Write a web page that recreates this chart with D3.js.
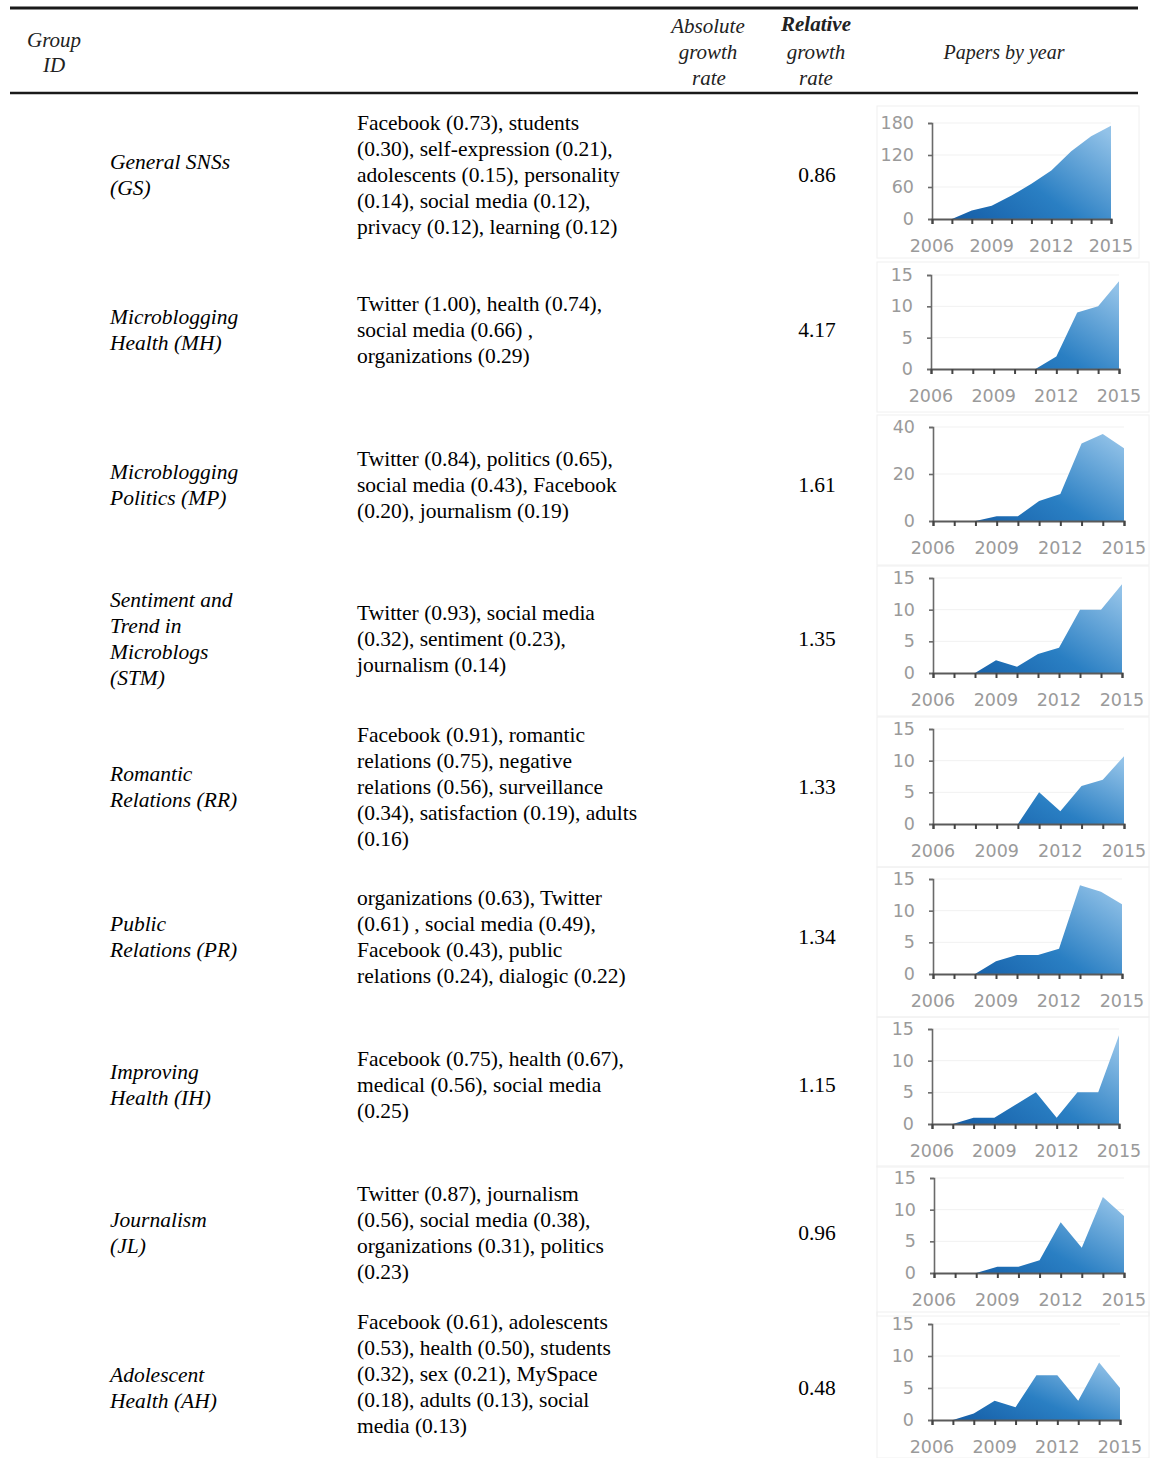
<!DOCTYPE html>
<html>
<head>
<meta charset="utf-8">
<script src="https://cdn.jsdelivr.net/npm/d3@7"></script>
<style>
  body { margin: 0; background: #fff; }
  svg text { font-family: "Liberation Serif", "Times New Roman", serif; }
  .tick-label { font-family: "DejaVu Sans", sans-serif; fill: #9a9a9a; font-size: 17.5px; }
</style>
</head>
<body>
<div id="chart-area"></div>
<script>
// ---- data ----
const years = [2006, 2007, 2008, 2009, 2010, 2011, 2012, 2013, 2014, 2015]
const yearLabels = [2006, 2009, 2012, 2015]

const groupNames = [
  ["General SNSs", "(GS)"],
  ["Microblogging", "Health (MH)"],
  ["Microblogging", "Politics (MP)"],
  ["Sentiment and", "Trend in", "Microblogs", "(STM)"],
  ["Romantic", "Relations (RR)"],
  ["Public", "Relations (PR)"],
  ["Improving", "Health (IH)"],
  ["Journalism", "(JL)"],
  ["Adolescent", "Health (AH)"]
]

const keywords = [
  ["Facebook (0.73), students", "(0.30), self-expression (0.21),", "adolescents (0.15), personality", "(0.14), social media (0.12),", "privacy (0.12), learning (0.12)"],
  ["Twitter (1.00), health (0.74),", "social media (0.66) ,", "organizations (0.29)"],
  ["Twitter (0.84), politics (0.65),", "social media (0.43), Facebook", "(0.20), journalism (0.19)"],
  ["Twitter (0.93), social media", "(0.32), sentiment (0.23),", "journalism (0.14)"],
  ["Facebook (0.91), romantic", "relations (0.75), negative", "relations (0.56), surveillance", "(0.34), satisfaction (0.19), adults", "(0.16)"],
  ["organizations (0.63), Twitter", "(0.61) , social media (0.49),", "Facebook (0.43), public", "relations (0.24), dialogic (0.22)"],
  ["Facebook (0.75), health (0.67),", "medical (0.56), social media", "(0.25)"],
  ["Twitter (0.87), journalism", "(0.56), social media (0.38),", "organizations (0.31), politics", "(0.23)"],
  ["Facebook (0.61), adolescents", "(0.53), health (0.50), students", "(0.32), sex (0.21), MySpace", "(0.18), adults (0.13), social", "media (0.13)"]
]

const relativeGrowth = ["0.86", "4.17", "1.61", "1.35", "1.33", "1.34", "1.15", "0.96", "0.48"]

const papersGS  = [0, 0, 16, 25, 44, 66, 91, 127, 155, 175]
const papersMH  = [0, 0, 0, 0, 0, 0, 2, 9, 10, 14]
const papersMP  = [0, 0, 0, 2, 2, 8.5, 11.5, 33, 37, 31]
const papersSTM = [0, 0, 0, 2, 1, 3, 4, 10, 10, 14]
const papersRR  = [0, 0, 0, 0, 0, 5, 2, 6, 7, 10.7]
const papersPR  = [0, 0, 0, 2, 3, 3, 4, 14, 13, 11]
const papersIH  = [0, 0, 1, 1, 3, 5, 1, 5, 5, 14]
const papersJL  = [0, 0, 0, 1, 1, 2, 8, 4, 12, 9]
const papersAH  = [0, 0, 1, 3, 2, 7, 7, 3, 9, 5]
const papers = [papersGS, papersMH, papersMP, papersSTM, papersRR, papersPR, papersIH, papersJL, papersAH]

const yTicksGS = [0, 60, 120, 180]
const yTicksMP = [0, 20, 40]
const yTicksSmall = [0, 5, 10, 15]
const yTicks = [yTicksGS, yTicksSmall, yTicksMP, yTicksSmall, yTicksSmall, yTicksSmall, yTicksSmall, yTicksSmall, yTicksSmall]

// ---- layout (pixel positions per row) ----
const rowLayout = [
  { nameY: 162, kwY: 123, valY: 175,  top: 123,  base: 219,  x0: 932, x1: 1111, box: [877, 106, 262, 152] },
  { nameY: 317, kwY: 304, valY: 330,  top: 275,  base: 369,  x0: 931, x1: 1119, box: [877, 262, 272, 150] },
  { nameY: 472, kwY: 459, valY: 485,  top: 427,  base: 521,  x0: 933, x1: 1124, box: [877, 415, 272, 150] },
  { nameY: 600, kwY: 613, valY: 639,  top: 578,  base: 673,  x0: 933, x1: 1122, box: [877, 566, 272, 150] },
  { nameY: 774, kwY: 735, valY: 787,  top: 729,  base: 824,  x0: 933, x1: 1124, box: [877, 717, 272, 150] },
  { nameY: 924, kwY: 898, valY: 937,  top: 879,  base: 974,  x0: 933, x1: 1122, box: [877, 867, 272, 150] },
  { nameY: 1072, kwY: 1059, valY: 1085, top: 1029, base: 1124, x0: 932, x1: 1119, box: [877, 1017, 272, 150] },
  { nameY: 1220, kwY: 1194, valY: 1233, top: 1178, base: 1273, x0: 934, x1: 1124, box: [877, 1166, 272, 150] },
  { nameY: 1375, kwY: 1322, valY: 1388, top: 1324, base: 1420, x0: 932, x1: 1120, box: [877, 1312, 272, 146] }
]

const WIDTH = 1158
const HEIGHT = 1458
const LINE = 26
const FONT = 21.5

const svg = d3.select("#chart-area").append("svg")
  .attr("width", WIDTH)
  .attr("height", HEIGHT)

const defs = svg.append("defs")
const grad = defs.append("linearGradient")
  .attr("id", "blueFill")
  .attr("x1", 0).attr("y1", 0.8)
  .attr("x2", 1).attr("y2", 0.1)
grad.append("stop").attr("offset", "0%").attr("stop-color", "#165fa8")
grad.append("stop").attr("offset", "45%").attr("stop-color", "#2a7fc3")
grad.append("stop").attr("offset", "100%").attr("stop-color", "#92c2e8")

// ---- header ----
svg.append("line")
  .attr("x1", 10).attr("x2", 1138).attr("y1", 8).attr("y2", 8)
  .attr("stroke", "#1a1a1a").attr("stroke-width", 3)
svg.append("line")
  .attr("x1", 10).attr("x2", 1138).attr("y1", 93).attr("y2", 93)
  .attr("stroke", "#1a1a1a").attr("stroke-width", 2.5)

const header = svg.append("g")
  .attr("font-style", "italic")
  .attr("font-size", "21px")
  .attr("text-anchor", "middle")
  .attr("fill", "#222")

header.append("text").attr("x", 54).attr("y", 47).text("Group")
header.append("text").attr("x", 54).attr("y", 72).text("ID")
header.append("text").attr("x", 708).attr("y", 33).text("Absolute")
header.append("text").attr("x", 708).attr("y", 59).text("growth")
header.append("text").attr("x", 709).attr("y", 85).text("rate")
header.append("text").attr("x", 816).attr("y", 31).attr("font-weight", "bold").text("Relative")
header.append("text").attr("x", 816).attr("y", 59).text("growth")
header.append("text").attr("x", 816).attr("y", 85).text("rate")
header.append("text").attr("x", 1004).attr("y", 59).attr("font-size", "20px").text("Papers by year")

// ---- rows ----
groupNames.forEach(function(name, i) {
  const L = rowLayout[i]
  const row = svg.append("g").attr("class", "row")

  row.append("g")
    .attr("font-style", "italic")
    .attr("font-size", FONT + "px")
    .selectAll("text")
    .data(name)
    .enter()
    .append("text")
    .attr("x", 110)
    .attr("y", (d, j) => L.nameY + 7 + j * LINE)
    .text(d => d)

  row.append("g")
    .attr("font-size", FONT + "px")
    .selectAll("text")
    .data(keywords[i])
    .enter()
    .append("text")
    .attr("x", 357)
    .attr("y", (d, j) => L.kwY + 7 + j * LINE)
    .text(d => d)

  row.append("text")
    .attr("x", 817)
    .attr("y", L.valY + 7)
    .attr("text-anchor", "middle")
    .attr("font-size", FONT + "px")
    .text(relativeGrowth[i])

  drawSpark(row, L, papers[i], yTicks[i])
})

function drawSpark(g, L, values, ticks) {
  const b = L.box
  g.append("rect")
    .attr("x", b[0]).attr("y", b[1]).attr("width", b[2]).attr("height", b[3])
    .attr("fill", "none").attr("stroke", "#f0f0f0")

  const x = d3.scaleLinear().domain([2006, 2015]).range([L.x0, L.x1])
  const y = d3.scaleLinear().domain([0, d3.max(ticks)]).range([L.base, L.top])

  // faint gridlines
  g.selectAll(".grid")
    .data(ticks.slice(1))
    .enter()
    .append("line")
    .attr("x1", L.x0).attr("x2", L.x1)
    .attr("y1", d => y(d)).attr("y2", d => y(d))
    .attr("stroke", "#f1f1f1").attr("stroke-width", 1)

  const area = d3.area()
    .x((d, j) => x(years[j]))
    .y0(L.base)
    .y1(d => y(d))

  g.append("path")
    .datum(values)
    .attr("d", area)
    .attr("fill", "url(#blueFill)")

  // y axis
  const yAxis = g.append("g")
    .attr("transform", `translate(${L.x0},0)`)
    .call(d3.axisLeft(y).tickValues(ticks).tickSize(4).tickPadding(14))
  yAxis.select(".domain").attr("stroke", "#6a6a6a").attr("stroke-width", 1.6)
  yAxis.selectAll(".tick line").attr("stroke", "#6a6a6a").attr("stroke-width", 1.6)
  yAxis.selectAll(".tick text")
    .attr("class", "tick-label")
    .attr("font-family", null).attr("font-size", null).attr("fill", null)

  // x axis
  const xAxis = g.append("g")
    .attr("transform", `translate(0,${L.base})`)
    .call(d3.axisBottom(x).tickValues(years).tickSize(5).tickFormat(""))
  xAxis.select(".domain").attr("stroke", "#5a5a5a").attr("stroke-width", 2)
  xAxis.selectAll(".tick line").attr("stroke", "#444").attr("stroke-width", 2)

  g.selectAll(".year")
    .data(yearLabels)
    .enter()
    .append("text")
    .attr("class", "tick-label")
    .attr("x", d => x(d))
    .attr("y", L.base + 33)
    .attr("text-anchor", "middle")
    .text(d => d)
}
</script>
</body>
</html>
